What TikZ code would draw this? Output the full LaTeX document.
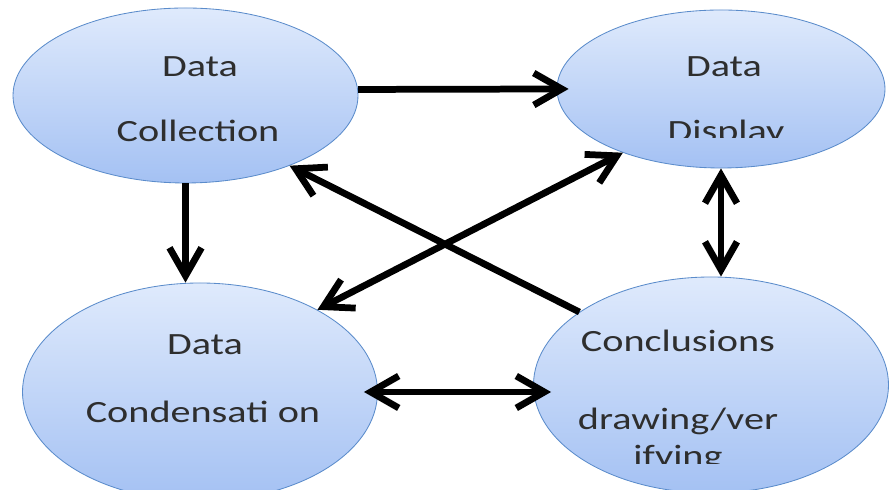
\documentclass[tikz,border=0pt]{standalone}
\usepackage{fontspec}
\setmainfont{Carlito}[FakeStretch=1.3]
\usetikzlibrary{shapes.geometric,arrows.meta}

\definecolor{ringblue}{HTML}{5B8CCB}
\definecolor{filltop}{HTML}{DFEAFC}
\definecolor{fillbot}{HTML}{A4C1F3}
\definecolor{txtgray}{HTML}{2E2E2E}

\begin{document}
\begin{tikzpicture}[
  stage/.style={ellipse,draw=ringblue,line width=0.6pt,top color=filltop,bottom color=fillbot,inner sep=0pt},
  lbl/.style={anchor=base,inner sep=0pt,text=txtgray,font=\fontsize{22}{26}\selectfont},
  barb/.tip={Straight Barb[length=0.7cm,width=0.8cm]},
  flow/.style={line width=4.8pt,-barb},
  twoway/.style={line width=4.8pt,barb-barb}
]
\useasboundingbox (0,0) rectangle (22.275,12.25);

% the four stages
\node[stage,minimum width=8.625cm,minimum height=4.375cm] (col)  at (4.6375,9.8625) {};
\node[stage,minimum width=8.2cm,minimum height=3.95cm]    (disp) at (18.025,10.025) {};
\node[stage,minimum width=8.875cm,minimum height=5.45cm]  (cond) at (5.0,2.45) {};
\node[stage,minimum width=8.875cm,minimum height=5.4cm]   (conc) at (17.775,2.625) {};

% texts
\node[lbl] (colA) at (5.0,10.325) {Data};
\node[lbl] (colB) at (4.95,8.7) {Collection};
\node[lbl] (dispA) at (18.1,10.325) {Data};
\begin{scope}
\clip (14,8.8) rectangle (22,9.8);
\node[lbl] (dispB) at (18.15,8.7) {Display};
\end{scope}
\node[lbl] (condA) at (5.125,3.375) {Data};
\node[lbl] (condB) at (5.075,1.675) {Condensati on};
\node[lbl] (concA) at (16.95,3.45) {Conclusions};
\node[lbl] (concB) at (16.95,1.5) {drawing/ver};
\begin{scope}
\clip (14,0.65) rectangle (20,1.3);
\node[lbl] (concC) at (16.95,0.575) {ifying};
\end{scope}

% connectors
\draw[flow,shorten >=-0.3cm] (col.2) -- (disp.180);
\draw[flow] (col.south) -- (col.south |- cond.north);
\draw[twoway] (disp.south) -- (disp.south |- conc.north);
\draw[twoway,shorten <=-0.35cm,shorten >=-0.45cm] (cond.east) -- (cond.east -| conc.west);
\draw[flow] (conc.151) -- (col.-34);
\draw[twoway] (disp.213) -- (cond.35);
\end{tikzpicture}
\end{document}
